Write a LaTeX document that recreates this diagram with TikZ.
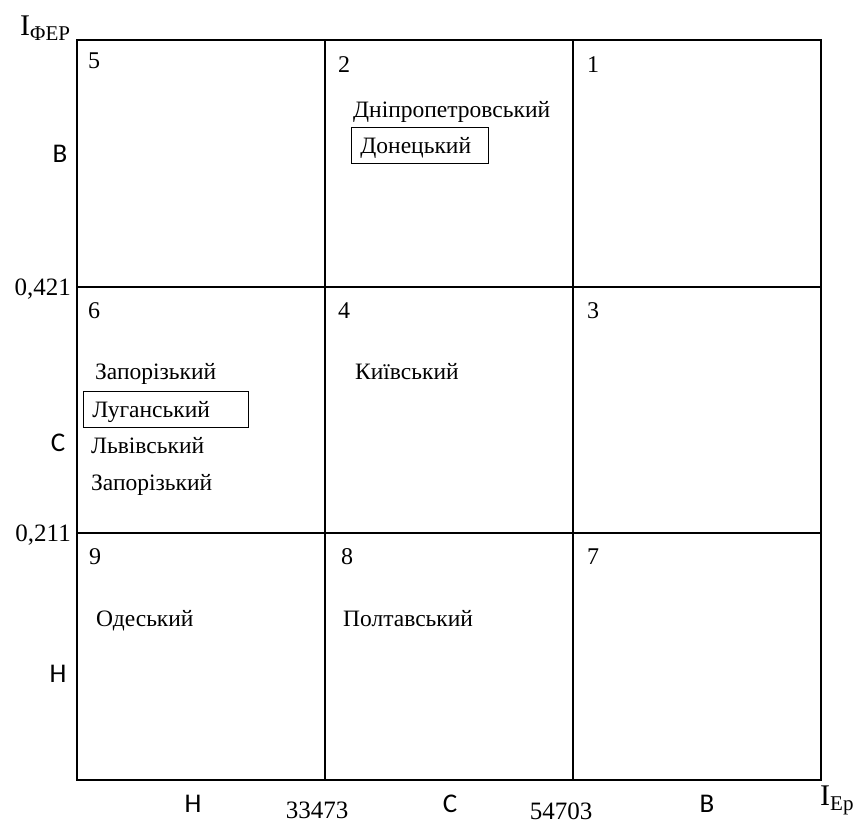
\documentclass[tikz,border=0pt]{standalone}
\usepackage{fontspec}
\setmainfont{Liberation Serif}
\newfontfamily\lblfont{Carlito}
\begin{document}
\begin{tikzpicture}[x=1pt,y=-1pt,
  grid/.style={line width=1.2pt},
  cellnum/.style={anchor=base west,inner sep=0pt,font=\fontsize{24}{26}\selectfont},
  region/.style={anchor=base west,inner sep=0pt,font=\fontsize{23.5}{26}\selectfont},
  boxed/.style={draw,line width=0.9pt,anchor=base west,inner xsep=9pt,inner ysep=0pt,
    text depth=10pt,text height=26pt,align=left,font=\fontsize{23.5}{26}\selectfont},
  axlbl/.style={anchor=base,inner sep=0pt,font=\lblfont\fontsize{27}{30}\selectfont},
  tick/.style={inner sep=0pt,font=\fontsize{25}{28}\selectfont}
]
\useasboundingbox (0,0) rectangle (855,823);
\coordinate (tl) at (77,40);
\coordinate (br) at (821,780);
\draw[grid] (tl) rectangle (br);
\coordinate (v1t) at (325,40); \coordinate (v1b) at (325,780);
\coordinate (v2t) at (573,40); \coordinate (v2b) at (573,780);
\coordinate (h1l) at (77,287); \coordinate (h1r) at (821,287);
\coordinate (h2l) at (77,533); \coordinate (h2r) at (821,533);
\draw[grid] (v1t) -- (v1b);
\draw[grid] (v2t) -- (v2b);
\draw[grid] (h1l) -- (h1r);
\draw[grid] (h2l) -- (h2r);
% cell numbers
\node[cellnum] (n5) at (88,68) {5};
\node[cellnum] (n2) at (338,72) {2};
\node[cellnum] (n1) at (587,72) {1};
\node[cellnum] (n6) at (88,318) {6};
\node[cellnum] (n4) at (338,318) {4};
\node[cellnum] (n3) at (587,318) {3};
\node[cellnum] (n9) at (89,564) {9};
\node[cellnum] (n8) at (341,564) {8};
\node[cellnum] (n7) at (587,564) {7};
% regions
\node[region] (dnipro) at (353,117) {Дніпропетровський};
\node[boxed,text width=119pt] (donetsk) at (351,153) {Донецький};
\node[region] (zap1) at (95,379) {Запорізький};
\node[boxed,text width=147pt] (luhansk) at (83,417) {Луганський};
\node[region] (lviv) at (91,453) {Львівський};
\node[region] (zap2) at (91,490) {Запорізький};
\node[region] (kyiv) at (355,379) {Київський};
\node[region] (odesa) at (96,626) {Одеський};
\node[region] (poltava) at (343,626) {Полтавський};
% axis labels
\node[axlbl] (yB) at (60,162) {В};
\node[axlbl] (yC) at (58,451) {С};
\node[axlbl] (yH) at (58,682) {Н};
\node[axlbl] (xH) at (193,812) {Н};
\node[axlbl] (xC) at (450,812) {С};
\node[axlbl] (xB) at (707,812) {В};
\node[tick,anchor=base east] (t421) at (71,295) {0,421};
\node[tick,anchor=base east] (t211) at (71,541) {0,211};
\node[tick,anchor=base] (t33) at (317,818) {33473};
\node[tick,anchor=base] (t54) at (561,819) {54703};
\node[inner sep=0pt,anchor=base west,font=\fontsize{30}{32}\selectfont] (yaxis) at (20,35) {I\textsubscript{\fontsize{21}{22}\selectfont ΦEP}};
\node[inner sep=0pt,anchor=base west,font=\fontsize{30}{32}\selectfont] (xaxis) at (820,805) {I\textsubscript{\fontsize{21}{22}\selectfont Ep}};
\end{tikzpicture}
\end{document}
